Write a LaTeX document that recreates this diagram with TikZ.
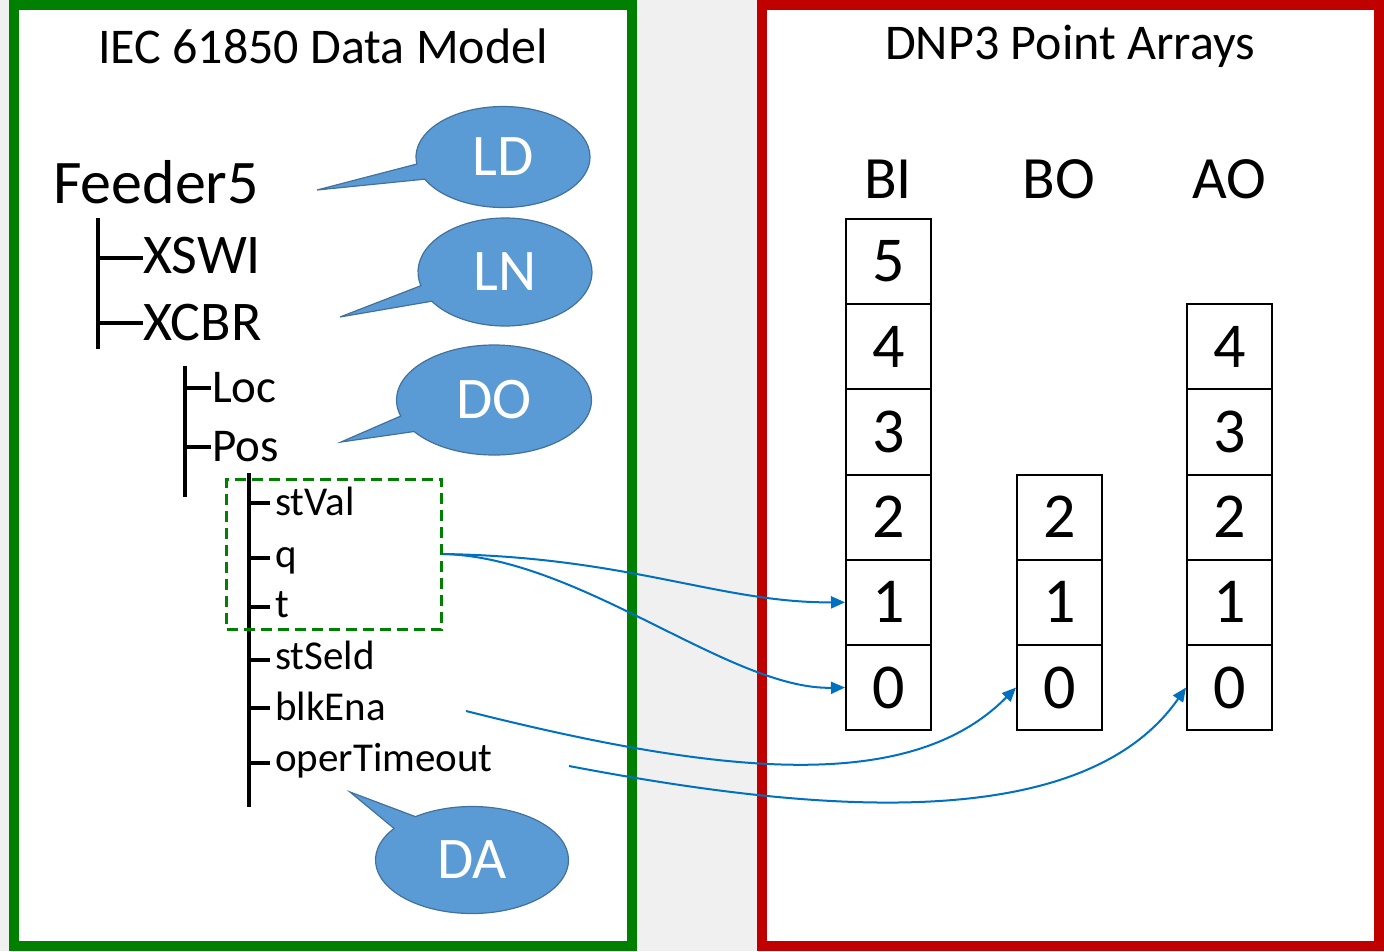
\documentclass[tikz,border=0pt]{standalone}
\usepackage{fontspec}
\setmainfont{Carlito}
\usetikzlibrary{arrows.meta,shapes.callouts}

\definecolor{framegreen}{RGB}{0,128,0}
\definecolor{framered}{RGB}{192,0,0}
\definecolor{bubblefill}{RGB}{91,155,213}
\definecolor{bubbleline}{RGB}{65,113,156}
\definecolor{maplink}{RGB}{0,112,192}

\tikzset{
	treeline/.style={line width=4pt},
	treelabel/.style={anchor=base west,inner sep=0pt},
	bubble/.style={ellipse callout,callout pointer arc=18,fill=bubblefill,draw=bubbleline,
		line width=1.2pt,text=white,inner sep=0pt,font=\fontsize{59}{59}\selectfont},
	cell/.style={draw,line width=2pt,minimum width=85pt,minimum height=85.2pt,inner sep=0pt,
		font=\fontsize{64}{64}\selectfont},
	colhead/.style={anchor=base,inner sep=0pt,font=\fontsize{60}{60}\selectfont},
	maparrow/.style={draw=maplink,line width=2pt,-{Triangle[length=14pt,width=12pt]}},
}

\begin{document}
\begin{tikzpicture}[x=1pt,y=-1pt]
	\useasboundingbox (0,0) rectangle (1384,951);
	\fill[black!6] (0,0) rectangle (1384,951);
	% the two panels
	\filldraw[fill=white,draw=framegreen,line width=10pt] (14,5) rectangle (632,946);
	\filldraw[fill=white,draw=framered,line width=10pt] (762,5) rectangle (1379,946);
	\node[font=\fontsize{50}{50}\selectfont] (modeltitle) at (323,46) {IEC 61850 Data Model};
	\node[font=\fontsize{50}{50}\selectfont] (arraytitle) at (1070,46) {DNP3 Point Arrays};

	% object tree
	\node[treelabel,font=\fontsize{62}{62}\selectfont] (feeder) at (53,203) {Feeder5};
	\node[treelabel,font=\fontsize{56}{56}\selectfont] (xswi) at (143,273) {XSWI};
	\node[treelabel,font=\fontsize{56}{56}\selectfont] (xcbr) at (143,340) {XCBR};
	\node[treelabel,font=\fontsize{47}{47}\selectfont] (loc) at (212,402) {Loc};
	\node[treelabel,font=\fontsize{47}{47}\selectfont] (pos) at (212,461) {Pos};
	\foreach \name/\txt/\y in {stval/stVal/515,q/q/567,t/t/617,stseld/stSeld/669,blkena/blkEna/720,opertimeout/operTimeout/771}
		\node[treelabel,font=\fontsize{41}{41}\selectfont] (\name) at (275,\y) {\txt};

	\draw[treeline] (98,218) -- (98,349);
	\draw[treeline] (98,258) -- (143,258) (98,323) -- (143,323);
	\draw[treeline] (185,366) -- (185,497);
	\draw[treeline] (185,388) -- (211,388) (185,447) -- (211,447);
	\draw[treeline] (249,473) -- (249,807);
	\foreach \y in {503,558,607,660,708,763}
		\draw[treeline] (249,\y) -- (270,\y);

	\node[draw=framegreen,line width=3pt,dash pattern=on 11pt off 6pt,minimum width=215pt,
		minimum height=150pt,inner sep=0pt] (statusbox) at (334,554) {};

	% callouts
	\node[bubble,minimum width=174pt,minimum height=101pt,callout absolute pointer={(317,190)}] (ld) at (503,157) {LD};
	\node[bubble,minimum width=174pt,minimum height=108pt,callout absolute pointer={(340,317)}] (ln) at (505,272) {LN};
	\node[bubble,minimum width=195pt,minimum height=110pt,callout absolute pointer={(341,442)}] (do) at (494,400) {DO};
	\node[bubble,minimum width=193pt,minimum height=107pt,callout absolute pointer={(350,792)}] (da) at (472,860) {DA};

	% point arrays
	\node[colhead] (bihead) at (888,198) {BI};
	\node[colhead] (bohead) at (1059,198) {BO};
	\node[colhead] (aohead) at (1229,198) {AO};
	\foreach \i in {0,...,5}
		\node[cell] (bi\i) at (888.5,687.5-85.2*\i) {\i};
	\foreach \i in {0,...,2}
		\node[cell] (bo\i) at (1059.5,687.5-85.2*\i) {\i};
	\foreach \i in {0,...,4}
		\node[cell] (ao\i) at (1229.5,687.5-85.2*\i) {\i};

	% mapping
	\coordinate (blkout) at (466,711);
	\coordinate (timeout) at (569,766);
	\draw[maparrow] (statusbox.east) .. controls (630,557) and (720,603) .. (bi1.west);
	\draw[maparrow] (statusbox.east) .. controls (580,557) and (730,690) .. (bi0.west);
	\draw[maparrow] (blkout) .. controls (720,775) and (910,795) .. (bo0.west);
	\draw[maparrow] (timeout) .. controls (800,810) and (1080,840) .. (ao0.west);
\end{tikzpicture}
\end{document}
